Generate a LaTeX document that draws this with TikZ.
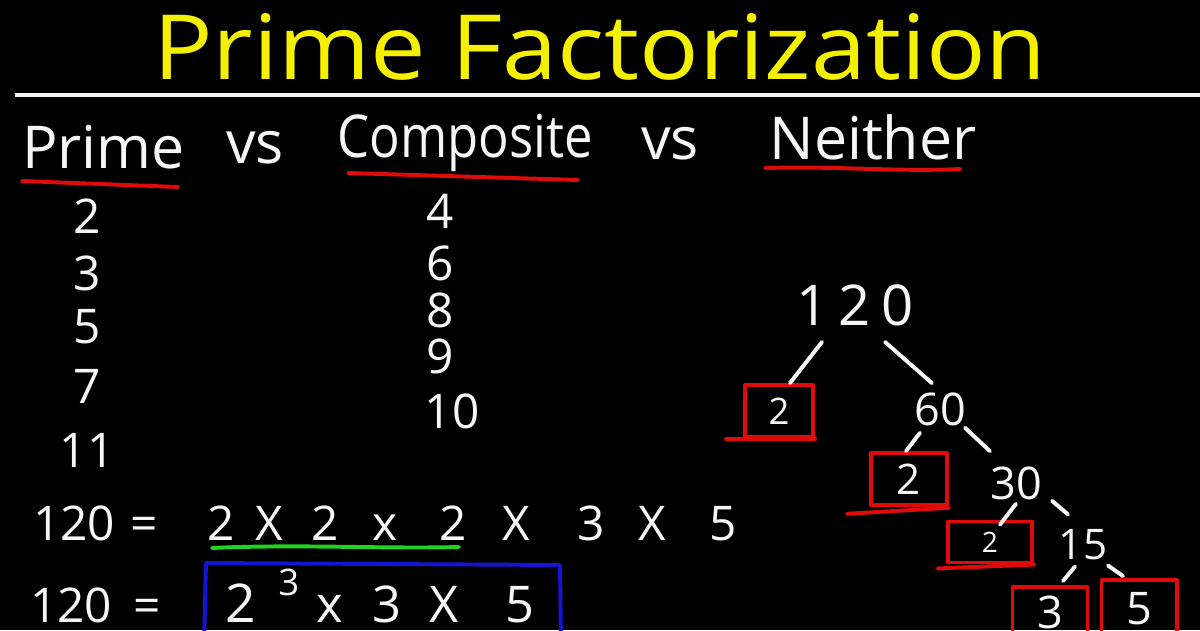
\documentclass[tikz,border=0pt]{standalone}
\usepackage{fontspec}
\setmainfont{Open Sans}
\newfontfamily\spacedfont[LetterSpace=18]{Open Sans}
\usetikzlibrary{positioning}
\definecolor{TitleYellow}{HTML}{F4F000}
\definecolor{ChalkWhite}{HTML}{F6F6F6}
\definecolor{MarkRed}{HTML}{E00A0A}
\definecolor{MarkGreen}{HTML}{22D422}
\definecolor{MarkBlue}{HTML}{1414D2}

\tikzset{
  heading/.style={font=\fontsize{42}{48}\selectfont},
  hand/.style={font=\fontsize{34}{40}\selectfont},
  stroke/.style={line width=2.8pt, line cap=round, line join=round},
  underline/.style={stroke, draw=MarkRed},
  branch/.style={stroke, draw=ChalkWhite},
  factorbox/.style={stroke, draw=MarkRed, minimum width=#1, minimum height=1.3cm},
  factorbox/.default=1.7cm
}

\begin{document}
\begin{tikzpicture}[x=0.025cm, y=-0.025cm, every node/.style={text=ChalkWhite, inner sep=0pt}]
  \useasboundingbox (0,0) rectangle (1200,630);
  \fill[black] (0,0) rectangle (1200,630);

  % title and rule
  \node[anchor=base, text=TitleYellow, font=\fontsize{64}{70}\selectfont] (title) at (600,80)
    {\scalebox{1.1}[1]{Prime Factorization}};
  \draw[ChalkWhite, line width=3pt] (15,95) -- (1200,95);

  % heading row
  \node[heading, anchor=base west] (prime) at (22,168) {Prime};
  \node[heading, anchor=base] (vsa) at (255,163) {vs};
  \node[heading, anchor=base] (composite) at (465,158) {\scalebox{0.86}[1]{Composite}};
  \node[heading, anchor=base] (vsb) at (670,160) {vs};
  \node[heading, anchor=base] (neither) at (873,160) {Neither};
  \draw[underline] (22,181) -- (178,187);
  \draw[underline] (348,173) -- (578,180);
  \draw[underline] (765,168) .. controls (840,166) and (900,172) .. (960,169);

  % the two columns
  \foreach \n/\yy in {2/233,3/290,5/343,7/403,11/467}
    \node[hand, anchor=base] (p\n) at (87,\yy) {\n};
  \foreach \n/\xx/\yy in {4/440/228,6/440/280,8/440/327,9/440/373,10/452/428}
    \node[hand, anchor=base] (c\n) at (\xx,\yy) {\n};

  % factor tree
  \node[font=\fontsize{40}{44}\spacedfont] (n120) at (855,305) {120};
  \node[factorbox] (f2a) at (779,411) {\fontsize{26}{30}\selectfont 2};
  \node[font=\fontsize{32}{36}\selectfont] (n60) at (940,409) {60};
  \node[factorbox=1.9cm] (f2b) at (909,479) {\fontsize{30}{34}\selectfont 2};
  \node[font=\fontsize{32}{36}\selectfont] (n30) at (1016,483) {30};
  \node[factorbox=2.12cm, minimum height=1.025cm] (f2c) at (990,542) {\fontsize{20}{24}\selectfont 2};
  \node[font=\fontsize{30}{34}\selectfont] (n15) at (1083,545) {15};
  \node[factorbox=1.875cm, minimum height=1.25cm] (f3) at (1050,612) {\fontsize{32}{36}\selectfont 3};
  \node[factorbox=1.875cm, minimum height=1.45cm] (f5) at (1139,609) {\fontsize{32}{36}\selectfont 5};

  \draw[branch] ([shift={(-0.825cm,-0.4cm)}]n120.south) -- ([xshift=0.275cm]f2a.north);
  \draw[branch] ([shift={(0.75cm,-0.4cm)}]n120.south) -- ([shift={(-0.2cm,0.225cm)}]n60.north);
  \draw[branch] ([shift={(-0.5cm,-0.175cm)}]n60.south) -- ([xshift=-0.075cm]f2b.north);
  \draw[branch] ([shift={(0.625cm,-0.05cm)}]n60.south) -- ([shift={(-0.65cm,0.375cm)}]n30.north);
  \draw[branch] ([yshift=-0.1cm]n30.south) -- ([shift={(0.25cm,-0.125cm)}]f2c.north);
  \draw[branch] ([shift={(0.25cm,-0.025cm)}]n30.south east) -- ([shift={(-0.375cm,0.375cm)}]n15.north);
  \draw[branch] ([shift={(-0.2cm,-0.15cm)}]n15.south) -- ([shift={(0.325cm,0.1cm)}]f3.north);
  \draw[branch] ([shift={(0.625cm,-0.125cm)}]n15.south) -- ([shift={(-0.4cm,0.05cm)}]f5.north);

  \draw[underline] ([xshift=-0.425cm]f2a.south west) -- (f2a.south east);
  \draw[underline] ([xshift=-0.55cm, yshift=-0.17cm]f2b.south west) -- ([yshift=-0.02cm]f2b.south east);
  \draw[underline] ([xshift=-0.2cm, yshift=-0.1cm]f2c.south west) -- (f2c.south east);

  % 120 written out
  \foreach \t/\xx [count=\i] in {120/33,=/130,2/207,X/255,2/311,x/372,2/439,X/502,3/577,X/638,5/709}
    \node[hand, anchor=base west] (ea\i) at (\xx,540) {\t};
  \draw[stroke, MarkGreen] (212,548) .. controls (300,544) and (380,549) .. (459,547);

  % 120 with a power
  \node[hand, anchor=base west] (eb1) at (30,622) {120};
  \node[hand, anchor=base west] (eb2) at (133,622) {=};
  \node[font=\fontsize{38}{42}\selectfont, anchor=base west] (eb3) at (225,622) {2};
  \node[font=\fontsize{26}{30}\selectfont, anchor=base west] (eb4) at (278,595) {3};
  \foreach \t/\xx [count=\i from 5] in {x/316,3/372,X/429,5/505}
    \node[font=\fontsize{36}{40}\selectfont, anchor=base west] (eb\i) at (\xx,622) {\t};
  \draw[stroke, MarkBlue] (204,645) -- (206,563) -- (560,565) -- (561,645);
\end{tikzpicture}
\end{document}
